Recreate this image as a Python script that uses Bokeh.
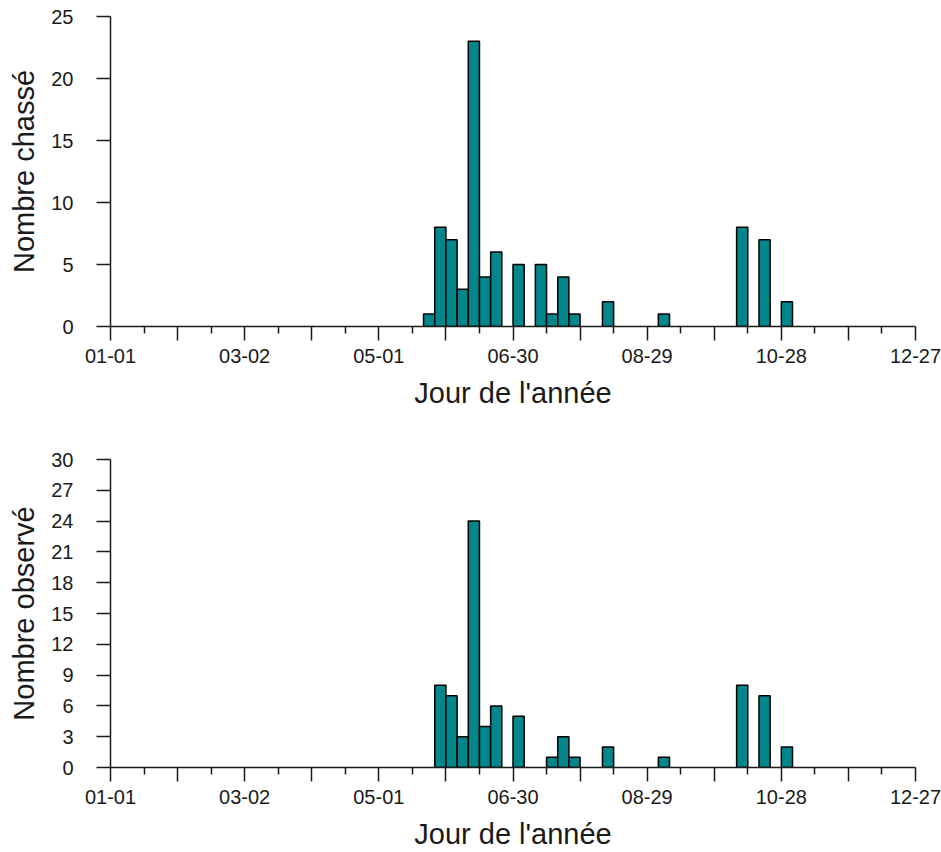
from bokeh.plotting import figure
from bokeh.layouts import column
from bokeh.models import Range1d, FixedTicker
from bokeh.embed import file_html
from bokeh.resources import INLINE

# ---- data ----
bin_width = 5
top_bin_start = [141, 146, 151, 156, 161, 166, 171, 181, 191, 196, 201, 206, 221, 246, 281, 291, 301]
top_counts = [1, 8, 7, 3, 23, 4, 6, 5, 5, 1, 4, 1, 2, 1, 8, 7, 2]

bot_bin_start = [146, 151, 156, 161, 166, 171, 181, 196, 201, 206, 221, 246, 281, 291, 301]
bot_counts = [8, 7, 3, 24, 4, 6, 5, 1, 3, 1, 2, 1, 8, 7, 2]

x_label_days = [1, 61, 121, 181, 241, 301, 361]
x_label_text = ["01-01", "03-02", "05-01", "06-30", "08-29", "10-28", "12-27"]
x_major_days = list(range(1, 362, 30))
x_minor_days = list(range(16, 361, 30))

top_yticks = [0, 5, 10, 15, 20, 25]
bot_yticks = [0, 3, 6, 9, 12, 15, 18, 21, 24, 27, 30]

FONT = "Liberation Sans"
FILL = "#00868B"
INK = "#1a1a1a"


def make(bin_start, counts, yticks, ylabel, height, border_top, border_bottom):
    p = figure(width=941, height=height, output_backend="svg", toolbar_location=None,
               x_range=Range1d(x_major_days[0], x_major_days[-1]),
               y_range=Range1d(yticks[0], yticks[-1]),
               min_border_left=110, min_border_right=26,
               min_border_top=border_top, min_border_bottom=border_bottom)
    p.outline_line_color = None
    p.grid.visible = False
    p.background_fill_color = "white"
    p.border_fill_color = "white"

    rights = [s + bin_width for s in bin_start]
    p.quad(left=bin_start, right=rights, bottom=0, top=counts,
           fill_color=FILL, line_color="black", line_width=1.5)

    xa = p.xaxis[0]
    xa.ticker = FixedTicker(ticks=x_major_days, minor_ticks=x_minor_days)
    overrides = {d: "" for d in x_major_days}
    for d, t in zip(x_label_days, x_label_text):
        overrides[d] = t
    xa.major_label_overrides = overrides
    xa.major_tick_out = 14
    xa.major_tick_in = 0
    xa.minor_tick_out = 7
    xa.minor_tick_in = 0
    xa.major_label_standoff = 8
    xa.axis_label = "Jour de l'année"
    xa.axis_label_standoff = 11

    ya = p.yaxis[0]
    ya.ticker = FixedTicker(ticks=yticks, minor_ticks=[])
    ya.major_tick_out = 14
    ya.major_tick_in = 0
    ya.minor_tick_out = 0
    ya.minor_tick_in = 0
    ya.major_label_standoff = 23
    ya.axis_label = ylabel
    ya.axis_label_standoff = 8

    for ax in (xa, ya):
        ax.axis_line_color = INK
        ax.axis_line_width = 1.5
        ax.major_tick_line_color = INK
        ax.major_tick_line_width = 1.5
        ax.minor_tick_line_color = INK
        ax.minor_tick_line_width = 1.5
        ax.major_label_text_font = FONT
        ax.major_label_text_font_size = "20px"
        ax.major_label_text_color = INK
        ax.axis_label_text_font = FONT
        ax.axis_label_text_font_size = "29px"
        ax.axis_label_text_font_style = "normal"
        ax.axis_label_text_color = INK
    return p


p1 = make(top_bin_start, top_counts, top_yticks, "Nombre chassé", 430, 16, 104)
p2 = make(bot_bin_start, bot_counts, bot_yticks, "Nombre observé", 422, 29, 83)

layout = column(p1, p2, spacing=0)
open("out.html", "w").write(file_html(layout, INLINE))
